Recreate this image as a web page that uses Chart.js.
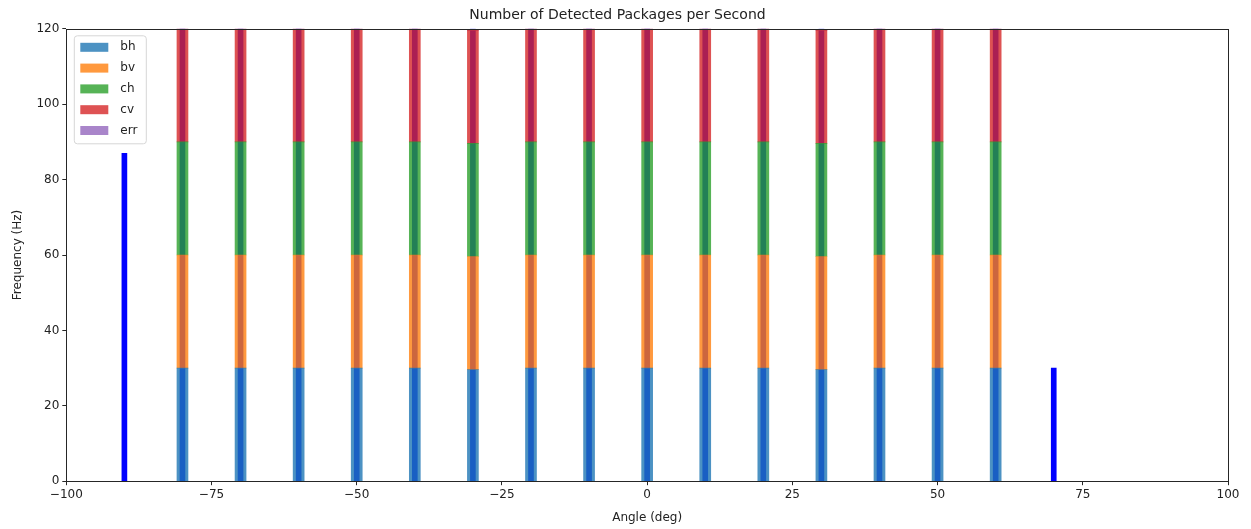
<!DOCTYPE html>
<html>
<head>
<meta charset="utf-8">
<script src="https://cdn.jsdelivr.net/npm/chart.js@4.4.0/dist/chart.umd.min.js"></script>
<style>
  html, body { margin: 0; padding: 0; background: #fff; }
  #wrap { width: 1251px; height: 529px; }
</style>
</head>
<body>
<div id="wrap"><canvas id="chart" width="1251" height="529"></canvas></div>
<script>
// angles (deg) of the stacked bars
const angles = [-80, -70, -60, -50, -40, -30, -20, -10, 0, 10, 20, 30, 40, 50, 60];
const bh = [30, 30, 30, 30, 30, 29.6, 30, 30, 30, 30, 30, 29.6, 30, 30, 30];
const bv = [30, 30, 30, 30, 30, 30, 30, 30, 30, 30, 30, 30, 30, 30, 30];
const ch = [30, 30, 30, 30, 30, 30, 30, 30, 30, 30, 30, 30, 30, 30, 30];
const cv = [30, 30, 30, 30, 30, 30, 30, 30, 30, 30, 30, 30, 30, 30, 30];
const err = [0, 0, 0, 0, 0, 0, 0, 0, 0, 0, 0, 0, 0, 0, 0];

// blue total bars drawn behind
const totalAngles = [-90, -80, -70, -60, -50, -40, -30, -20, -10, 0, 10, 20, 30, 40, 50, 60, 70];
const total = [87, 120, 120, 120, 120, 120, 120, 120, 120, 120, 120, 120, 120, 120, 120, 120, 30];

const xTicks = [-100, -75, -50, -25, 0, 25, 50, 75, 100];
const yTicks = [0, 20, 40, 60, 80, 100, 120];

const FONT = 'DejaVu Sans';
const toPts = (xs, ys) => xs.map((x, i) => ({ x: x, y: ys[i] }));

function stackSet(label, values, color) {
    return {
        label: label,
        data: toPts(angles, values),
        backgroundColor: color,
        stack: 'a',
        grouped: false,
        barThickness: 11,
        borderWidth: 0
    };
}

const frame = {
    id: 'frame',
    afterDatasetsDraw(chart) {
        const a = chart.chartArea;
        const c = chart.ctx;
        c.save();
        c.strokeStyle = '#262626';
        c.lineWidth = 1;
        c.strokeRect(Math.round(a.left) + 0.5, Math.round(a.top) + 0.5,
            Math.round(a.right - a.left), Math.round(a.bottom - a.top));

        // legend, upper left inside the axes
        const items = chart.data.datasets.filter(d => !d.hideLegend);
        const x0 = a.left + 8, y0 = a.top + 7;
        const w = 72, h = 108;
        const r = 3;
        c.beginPath();
        c.moveTo(x0 + r, y0);
        c.arcTo(x0 + w, y0, x0 + w, y0 + h, r);
        c.arcTo(x0 + w, y0 + h, x0, y0 + h, r);
        c.arcTo(x0, y0 + h, x0, y0, r);
        c.arcTo(x0, y0, x0 + w, y0, r);
        c.closePath();
        c.fillStyle = 'rgba(255,255,255,0.8)';
        c.fill();
        c.strokeStyle = '#d6d6d6';
        c.stroke();
        c.font = '12px ' + FONT;
        c.textBaseline = 'middle';
        items.forEach((d, i) => {
            const cy = y0 + 11.5 + i * 20.8;
            c.fillStyle = d.backgroundColor;
            c.fillRect(x0 + 6, cy - 4.5, 28, 9);
            c.fillStyle = '#222';
            c.fillText(d.label, x0 + 46, cy);
        });
        c.restore();
    }
};

new Chart(document.getElementById('chart'), {
    type: 'bar',
    data: {
        datasets: [
            stackSet('bh', bh, 'rgba(31,119,180,0.8)'),
            stackSet('bv', bv, 'rgba(255,127,14,0.8)'),
            stackSet('ch', ch, 'rgba(44,160,44,0.8)'),
            stackSet('cv', cv, 'rgba(214,39,40,0.8)'),
            stackSet('err', err, 'rgba(148,103,189,0.8)'),
            {
                label: 'total',
                data: toPts(totalAngles, total),
                backgroundColor: '#0000ff',
                stack: 'b',
                grouped: false,
                barThickness: 5,
                borderWidth: 0,
                hideLegend: true
            }
        ]
    },
    options: {
        responsive: false,
        animation: false,
        layout: { padding: { left: 7, right: 23, top: 0, bottom: 0 } },
        scales: {
            x: {
                type: 'linear',
                min: -100,
                max: 100,
                offset: false,
                afterBuildTicks: s => { s.ticks = xTicks.map(v => ({ value: v })); },
                ticks: {
                    font: { family: FONT, size: 12 },
                    color: '#222',
                    padding: 2,
                    maxRotation: 0,
                    callback: v => String(v).replace('-', '\u2212')
                },
                grid: { display: true, offset: false, drawOnChartArea: false, tickLength: 4, color: '#262626' },
                border: { display: false },
                title: {
                    display: true,
                    text: 'Angle (deg)',
                    font: { family: FONT, size: 12 },
                    color: '#222',
                    padding: { top: 7, bottom: 4 }
                }
            },
            y: {
                stacked: true,
                min: 0,
                max: 120,
                afterBuildTicks: s => { s.ticks = yTicks.map(v => ({ value: v })); },
                ticks: {
                    font: { family: FONT, size: 12 },
                    color: '#222',
                    padding: 3
                },
                grid: { display: true, offset: false, drawOnChartArea: false, tickLength: 4, color: '#262626' },
                border: { display: false },
                title: {
                    display: true,
                    text: 'Frequency (Hz)',
                    font: { family: FONT, size: 12 },
                    color: '#222',
                    padding: { top: 4, bottom: 8 }
                }
            }
        },
        plugins: {
            legend: { display: false },
            tooltip: { enabled: false },
            title: {
                display: true,
                text: 'Number of Detected Packages per Second',
                font: { family: FONT, size: 14, weight: 'normal' },
                color: '#222',
                padding: { top: 7, bottom: 5 }
            }
        }
    },
    plugins: [frame]
});
</script>
</body>
</html>
